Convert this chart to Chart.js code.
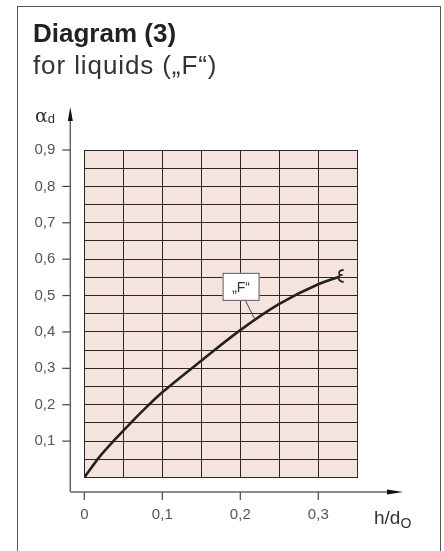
<!DOCTYPE html>
<html>
<head>
<meta charset="utf-8">
<script src="https://cdn.jsdelivr.net/npm/chart.js@4/dist/chart.umd.min.js"></script>
<style>
  html, body { margin: 0; padding: 0; background: #fff; }
  #wrap { position: relative; width: 444px; height: 551px; overflow: hidden; font-family: "Liberation Sans", Arial, sans-serif; }
  #frame { position: absolute; left: 17px; top: 6px; width: 424px; height: 560px; border: 1px solid #555; box-sizing: border-box; }
  canvas { position: absolute; left: 0; top: 0; }
  .t { position: absolute; white-space: nowrap; color: #222; line-height: 1; }
  #title { left: 33px; top: 20px; font-size: 26px; font-weight: bold; }
  #sub { left: 33px; top: 52px; font-size: 26px; color: #333; letter-spacing: 0.9px; }
  #ylab { left: 35px; top: 106px; font-size: 19px; color: #333; font-family: "DejaVu Serif", "Liberation Serif", serif; }
  #ylab sub { font-family: "Liberation Sans", Arial, sans-serif; font-size: 13px; vertical-align: -1px; }
  #xlab { left: 374px; top: 508px; font-size: 19px; color: #333; }
  #xlab sub { font-size: 14px; vertical-align: -4px; }
</style>
</head>
<body>
<div id="wrap">
  <div id="frame"></div>
  <canvas id="c" width="444" height="551"></canvas>
  <div class="t" id="title">Diagram (3)</div>
  <div class="t" id="sub">for liquids („F“)</div>
  <div class="t" id="ylab">α<sub>d</sub></div>
  <div class="t" id="xlab">h/d<sub>O</sub></div>
</div>
<script>
// ---- data ----
const hdValues    = [0, 0.02, 0.04, 0.06, 0.08, 0.10, 0.15, 0.20, 0.25, 0.30, 0.326];
const alphaValues = [0, 0.058, 0.106, 0.151, 0.194, 0.234, 0.321, 0.405, 0.477, 0.531, 0.551];
const xTickLabels = [0, 0.1, 0.2, 0.3];
const yTickLabels = [0.1, 0.2, 0.3, 0.4, 0.5, 0.6, 0.7, 0.8, 0.9];
const seriesName = '„F“';
const labelAnchor = { box: [0.201, 0.524], target: [0.219, 0.433] };

const fmt = v => String(Math.round(v * 10) / 10).replace('.', ',');
const inList = (list, v) => list.some(t => Math.abs(t - v) < 1e-6);

const decor = {
  id: 'decor',
  beforeDraw(chart) {
    const { ctx, chartArea: a } = chart;
    ctx.save();
    ctx.fillStyle = '#f4e4dd';
    ctx.fillRect(a.left, a.top, a.right - a.left, a.bottom - a.top);
    ctx.restore();
  },
  afterDraw(chart) {
    const { ctx, chartArea: a } = chart;
    const xs = chart.scales.x, ys = chart.scales.y;
    const axX = a.left - 14, axY = a.bottom + 14.5;
    ctx.save();
    ctx.strokeStyle = '#666';
    ctx.fillStyle = '#111';
    ctx.lineWidth = 1.5;
    // y axis
    ctx.beginPath(); ctx.moveTo(axX, axY); ctx.lineTo(axX, 118); ctx.stroke();
    ctx.beginPath(); ctx.moveTo(axX, 107); ctx.lineTo(axX - 2.5, 121); ctx.lineTo(axX + 2.5, 121); ctx.closePath(); ctx.fill();
    // x axis
    ctx.beginPath(); ctx.moveTo(axX, axY); ctx.lineTo(392, axY); ctx.stroke();
    ctx.beginPath(); ctx.moveTo(403, axY); ctx.lineTo(387, axY - 2.5); ctx.lineTo(387, axY + 2.5); ctx.closePath(); ctx.fill();
    // tick marks
    ctx.strokeStyle = '#444';
    ctx.lineWidth = 1.2;
    yTickLabels.forEach(v => {
      const p = ys.getPixelForValue(v);
      ctx.beginPath(); ctx.moveTo(axX - 8, p); ctx.lineTo(axX, p); ctx.stroke();
    });
    xTickLabels.forEach(v => {
      const p = xs.getPixelForValue(v);
      ctx.beginPath(); ctx.moveTo(p, axY); ctx.lineTo(p, axY + 8); ctx.stroke();
    });
    // end mark on curve
    const ex = xs.getPixelForValue(hdValues[hdValues.length - 1]);
    const ey = ys.getPixelForValue(alphaValues[alphaValues.length - 1]);
    ctx.strokeStyle = '#222';
    ctx.lineWidth = 1.8;
    ctx.beginPath();
    ctx.moveTo(ex + 5, ey - 7);
    ctx.quadraticCurveTo(ex - 1, ey - 7, ex + 1, ey - 2);
    ctx.quadraticCurveTo(ex - 2, ey + 4, ex + 5, ey + 5);
    ctx.stroke();
    ctx.beginPath(); ctx.moveTo(ex + 1, ey - 2); ctx.lineTo(ex + 4, ey - 2); ctx.stroke();
    // label box
    const bx = xs.getPixelForValue(labelAnchor.box[0]);
    const by = ys.getPixelForValue(labelAnchor.box[1]);
    const tx = xs.getPixelForValue(labelAnchor.target[0]);
    const ty = ys.getPixelForValue(labelAnchor.target[1]);
    const w = 37, h = 28;
    ctx.strokeStyle = '#444';
    ctx.lineWidth = 1;
    ctx.beginPath(); ctx.moveTo(bx + 4.5, by + h / 2); ctx.lineTo(tx, ty); ctx.stroke();
    ctx.fillStyle = '#fff';
    ctx.fillRect(bx - w / 2, by - h / 2, w, h);
    ctx.strokeStyle = '#555';
    ctx.strokeRect(bx - w / 2 + 0.5, by - h / 2 + 0.5, w - 1, h - 1);
    ctx.fillStyle = '#333';
    ctx.font = '14px "Liberation Sans", Arial, sans-serif';
    ctx.textAlign = 'center';
    ctx.textBaseline = 'middle';
    ctx.fillText(seriesName, bx, by + 1);
    ctx.restore();
  }
};

new Chart(document.getElementById('c'), {
  type: 'scatter',
  data: {
    datasets: [{
      label: seriesName,
      data: hdValues.map((x, i) => ({ x, y: alphaValues[i] })),
      showLine: true,
      borderColor: '#222',
      borderWidth: 2.6,
      pointRadius: 0,
      cubicInterpolationMode: 'monotone',
      fill: false
    }]
  },
  options: {
    responsive: false,
    devicePixelRatio: 1,
    animation: false,
    layout: { padding: { top: 150, right: 86.7, left: 0, bottom: 0 } },
    plugins: { legend: { display: false }, tooltip: { enabled: false } },
    scales: {
      x: {
        type: 'linear', min: 0, max: 0.35,
        afterFit: s => { s.height = 551 - 477.5; },
        ticks: {
          stepSize: 0.05, autoSkip: false, padding: 28, maxRotation: 0,
          color: '#555', font: { size: 15, family: '"Liberation Sans", Arial, sans-serif' },
          callback: v => inList(xTickLabels, v) ? fmt(v) : ''
        },
        grid: { color: '#2e2626', lineWidth: 1, drawTicks: false },
        border: { display: false }
      },
      y: {
        type: 'linear', min: 0, max: 0.9,
        afterFit: s => { s.width = 84.3; },
        ticks: {
          stepSize: 0.05, autoSkip: false, padding: 29,
          color: '#555', font: { size: 15, family: '"Liberation Sans", Arial, sans-serif' },
          callback: v => inList(yTickLabels, v) ? fmt(v) : ''
        },
        grid: { color: '#2e2626', lineWidth: 1, drawTicks: false },
        border: { display: false }
      }
    }
  },
  plugins: [decor]
});
</script>
</body>
</html>
